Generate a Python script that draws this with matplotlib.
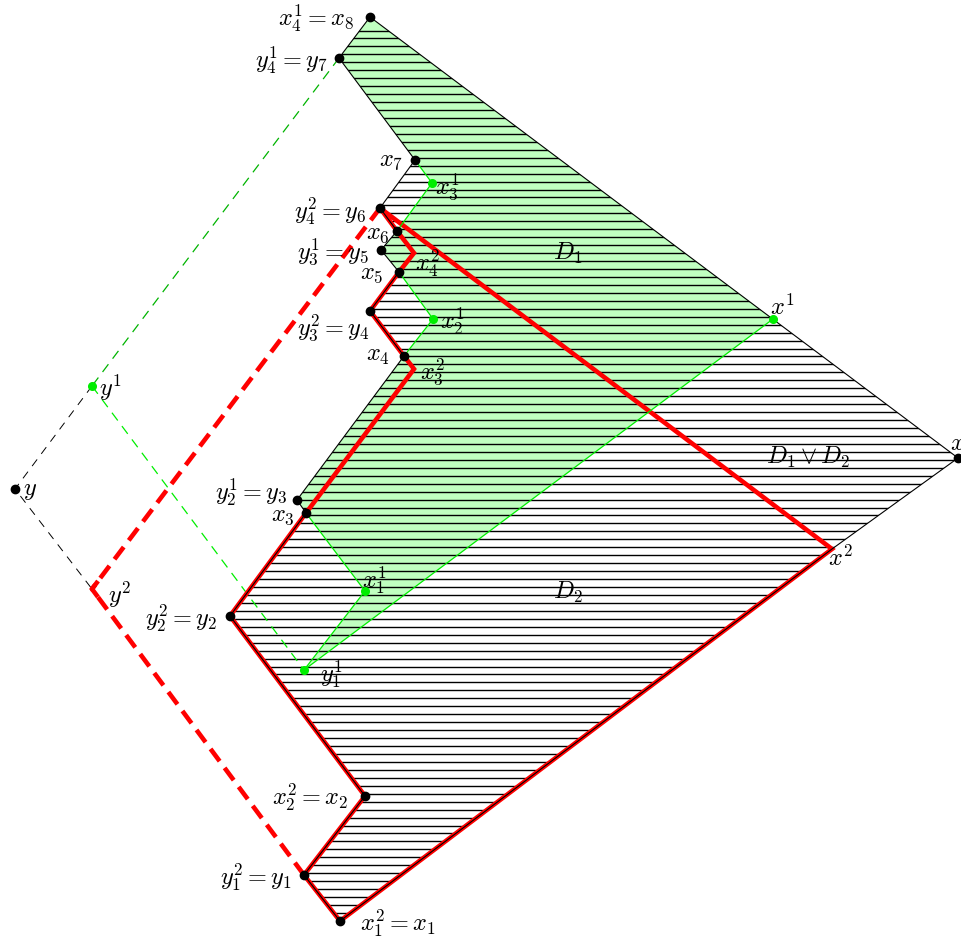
import numpy as np
import matplotlib
matplotlib.use("Agg")
import matplotlib.pyplot as plt
from matplotlib.patches import Polygon
from matplotlib.collections import LineCollection

plt.rcParams['mathtext.fontset'] = 'cm'
plt.rcParams['lines.scale_dashes'] = False

# ---- data: point positions (image coordinates) ----
P = {
    'x8': (370, 18), 'y7': (339, 59), 'x7': (415, 161), 'x13': (432, 184),
    'y6': (380, 209), 'x6': (397, 232), 'y5': (381, 251), 'x24': (414, 254),
    'x5': (399, 273), 'y4': (370, 312), 'x12': (433, 320), 'xs1': (773, 320),
    'x4': (404, 357), 'x23': (414, 370), 'ys1': (92, 387), 'x': (958, 459),
    'y': (15, 490), 'y3': (297, 501), 'x3': (306, 514), 'xs2': (832, 550),
    'x11': (365, 592), 'ys2': (92, 590), 'y2': (230, 617), 'y11': (304, 671),
    'x2': (365, 797), 'y1': (304, 876), 'x1': (340, 922),
}

union_poly = ['x8', 'x', 'xs2', 'x1', 'y1', 'x2', 'y2', 'x3', 'y3', 'x4', 'y4',
              'x5', 'y5', 'x6', 'y6', 'x7', 'y7']
d1_poly = ['x8', 'xs1', 'y11', 'x11', 'x3', 'y3', 'x4', 'x12', 'x5', 'y5',
           'x6', 'x13', 'x7', 'y7']
red_path = ['y6', 'xs2', 'x1', 'y1', 'x2', 'y2', 'x3', 'x23', 'x4', 'y4',
            'x5', 'x24', 'x6', 'y6']
red_dashed = [['y6', 'ys2'], ['y1', 'ys2']]
green_lines = [['xs1', 'y11', 'x11', 'x3'], ['x4', 'x12', 'x5'], ['x6', 'x13', 'x7']]
green_dashed_a = ['y7', 'ys1']
green_dashed_b = ['ys1', 'y11']
black_dashed = ['ys1', 'y', 'ys2']

black_dots = ['x8', 'y7', 'x7', 'y6', 'x6', 'y5', 'x5', 'y4', 'x4', 'x', 'y',
              'y3', 'x3', 'y2', 'x2', 'y1', 'x1']
green_dots = ['x13', 'x12', 'xs1', 'ys1', 'x11', 'y11']

# labels: (text, anchor point, dx, dy, ha)
labels = [
    (r'$x_4^1 = x_8$', 'x8', -15, 0, 'right'),
    (r'$y_4^1 = y_7$', 'y7', -11, 1, 'right'),
    (r'$x_7$', 'x7', -12, -1, 'right'),
    (r'$x_3^1$', 'x13', 3, 3, 'left'),
    (r'$y_4^2 = y_6$', 'y6', -13, 2, 'right'),
    (r'$x_6$', 'x6', -7, 1, 'right'),
    (r'$y_3^1 = y_5$', 'y5', -11, 1, 'right'),
    (r'$x_4^2$', 'x24', 1, 9, 'left'),
    (r'$x_5$', 'x5', -16, 0, 'right'),
    (r'$x_2^1$', 'x12', 7, 1, 'left'),
    (r'$y_3^2 = y_4$', 'y4', 0, 16, 'right'),
    (r'$x_4$', 'x4', -14, -2, 'right'),
    (r'$x_3^2$', 'x23', 6, 2, 'left'),
    (r'$x^1$', 'xs1', -3, -13, 'left'),
    (r'$y^1$', 'ys1', 7, 1, 'left'),
    (r'$x$', 'x', -8, -16, 'left'),
    (r'$y$', 'y', 8, 0, 'left'),
    (r'$y_2^1 = y_3$', 'y3', -9, -9, 'right'),
    (r'$x_3$', 'x3', -11, 1, 'right'),
    (r'$x^2$', 'xs2', -4, 8, 'left'),
    (r'$x_1^1$', 'x11', -3, -12, 'left'),
    (r'$y^2$', 'ys2', 16, 5, 'left'),
    (r'$y_2^2 = y_2$', 'y2', -12, 1, 'right'),
    (r'$y_1^1$', 'y11', 16, 3, 'left'),
    (r'$x_2^2 = x_2$', 'x2', -17, 0, 'right'),
    (r'$y_1^2 = y_1$', 'y1', -12, 1, 'right'),
    (r'$x_1^2 = x_1$', 'x1', 20, 1, 'left'),
]
region_labels = [(r'$D_1$', 568, 253), (r'$D_2$', 568, 592), (r'$D_1 \vee D_2$', 808, 457)]

W, H = 962, 937
fig = plt.figure(figsize=(W / 100, H / 100), dpi=100)
ax = fig.add_axes([0, 0, 1, 1])
ax.set_xlim(0, W)
ax.set_ylim(H, 0)
ax.axis('off')

def pts(names):
    return np.array([P[n] for n in names], dtype=float)

FS = 17.5
GREEN = '#00ee00'
FILLG = '#c0ffc0'

# union region
up = Polygon(pts(union_poly), closed=True, facecolor='white', edgecolor='none', zorder=1)
ax.add_patch(up)
# D1 green fill
ax.add_patch(Polygon(pts(d1_poly), closed=True, facecolor=FILLG, edgecolor='none', zorder=2))

# hatching clipped to union
ys = np.arange(31.5, 930, 7.95)
segs = [[(0, yy), (W, yy)] for yy in ys]
lc = LineCollection(segs, colors='black', linewidths=1.0, zorder=3)
ax.add_collection(lc)
lc.set_clip_path(up)

# dashed lines
a = pts(green_dashed_a)
ax.plot(a[:, 0], a[:, 1], color='#00b400', lw=0.9, dashes=(7, 5), zorder=4)
b = pts(green_dashed_b)
ax.plot(b[:, 0], b[:, 1], color=GREEN, lw=0.9, dashes=(7, 5), zorder=4)
c = pts(black_dashed)
ax.plot(c[:, 0], c[:, 1], color='black', lw=0.7, dashes=(6, 5), zorder=4)

# red lines
r = pts(red_path)
ax.plot(r[:, 0], r[:, 1], color='red', lw=3.3, solid_joinstyle='miter', zorder=5)
for seg in red_dashed:
    rd = pts(seg)
    ax.plot(rd[:, 0], rd[:, 1], color='red', lw=3.3, dashes=(11, 6), zorder=5)
# solid corner at y^2
c0 = np.array(P['ys2'], float)
d1 = pts(red_dashed[0])[0] - c0
d2 = pts(red_dashed[1])[0] - c0
corner = np.array([c0 + d1 / np.linalg.norm(d1) * 10, c0, c0 + d2 / np.linalg.norm(d2) * 10])
ax.plot(corner[:, 0], corner[:, 1], color='red', lw=3.3, solid_joinstyle='miter',
        solid_capstyle='butt', zorder=5)

# union boundary (black)
u = pts(union_poly + [union_poly[0]])
ax.plot(u[:, 0], u[:, 1], color='black', lw=0.8, zorder=6)

# green solid lines
for gl in green_lines:
    g = pts(gl)
    ax.plot(g[:, 0], g[:, 1], color=GREEN, lw=0.9, zorder=6)

# dots
bd = pts(black_dots)
ax.plot(bd[:, 0], bd[:, 1], 'o', color='black', ms=6, zorder=8)
gd = pts(green_dots)
ax.plot(gd[:, 0], gd[:, 1], 'o', color=GREEN, ms=5.5, zorder=8)

# labels
for txt, n, dx, dy, ha in labels:
    px, py = P[n]
    ax.text(px + dx, py + dy, txt, ha=ha, va='center', fontsize=FS, zorder=9)
for txt, tx, ty in region_labels:
    ax.text(tx, ty, txt, ha='center', va='center', fontsize=FS, zorder=9)

fig.savefig('out.png', dpi=100)
